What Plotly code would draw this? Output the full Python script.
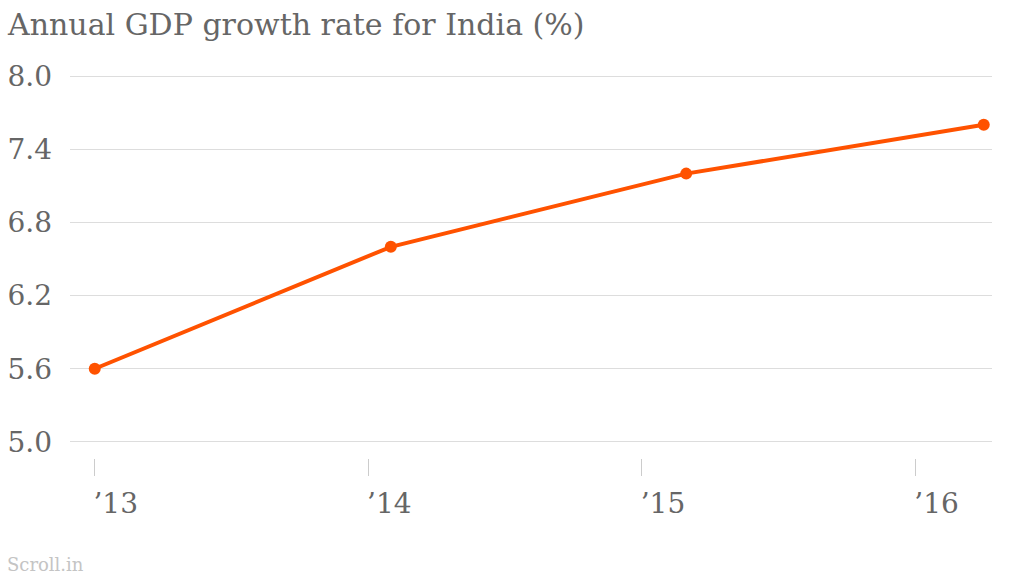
import plotly.graph_objects as go

dates = ["2013-01-01", "2014-01-31", "2015-03-01", "2016-04-01"]
gdp_growth = [5.6, 6.6, 7.2, 7.6]
y_ticks = [5.0, 5.6, 6.2, 6.8, 7.4, 8.0]
x_ticks = ["2013-01-01", "2014-01-01", "2015-01-01", "2016-01-01"]
x_ticklabels = ["\u201913", "\u201914", "\u201915", "\u201916"]

FONT = "DejaVu Serif"
TEXT = "#666666"

W, H = 1024, 576
L, R, T, AXIS_Y = 70, 32, 73, 458
PLOT_H = AXIS_Y - T

fig = go.Figure()
fig.add_trace(go.Scatter(
    x=dates, y=gdp_growth, mode="lines+markers",
    line=dict(color="#ff5200", width=4),
    marker=dict(color="#ff5200", size=12),
    hoverinfo="x+y", showlegend=False,
))

fig.update_layout(
    width=W, height=H,
    margin=dict(l=L, r=R, t=T, b=H - AXIS_Y),
    paper_bgcolor="white", plot_bgcolor="white",
    font=dict(family=FONT, color=TEXT),
    title=dict(text="Annual GDP growth rate for India (%)",
               x=8/W, xanchor="left", xref="container",
               y=1-14/H, yanchor="top", yref="container",
               font=dict(family=FONT, size=30, color=TEXT)),
    xaxis=dict(
        type="date", range=["2012-11-29", "2016-04-12"],
        tickvals=x_ticks, ticktext=x_ticklabels,
        showgrid=False, zeroline=False, showline=False,
        ticks="outside", ticklen=17, tickcolor="#cccccc", tickwidth=1,
        tickfont=dict(family=FONT, size=28, color=TEXT),
        ticklabelshift=21, ticklabelstandoff=3,
        anchor="free", position=0, automargin=False,
    ),
    yaxis=dict(
        range=[4.975, 8.025], domain=[13/PLOT_H, 1],
        tickvals=y_ticks, ticktext=[f"{v:.1f}" for v in y_ticks],
        showgrid=True, gridcolor="#dddddd", gridwidth=1,
        zeroline=False, showline=False, ticks="",
        tickfont=dict(family=FONT, size=28, color=TEXT),
        ticklabelstandoff=17, automargin=False,
    ),
    annotations=[dict(text="Scroll.in",
                      x=(5-L)/(W-L-R), xref="paper", xanchor="left",
                      y=-(564-AXIS_Y)/PLOT_H, yref="paper", yanchor="middle",
                      showarrow=False,
                      font=dict(family=FONT, size=18, color="#c4c4c4"))],
)
fig.write_html("out.html", config={"displayModeBar": False},
               post_script="document.body.style.margin='0';")
